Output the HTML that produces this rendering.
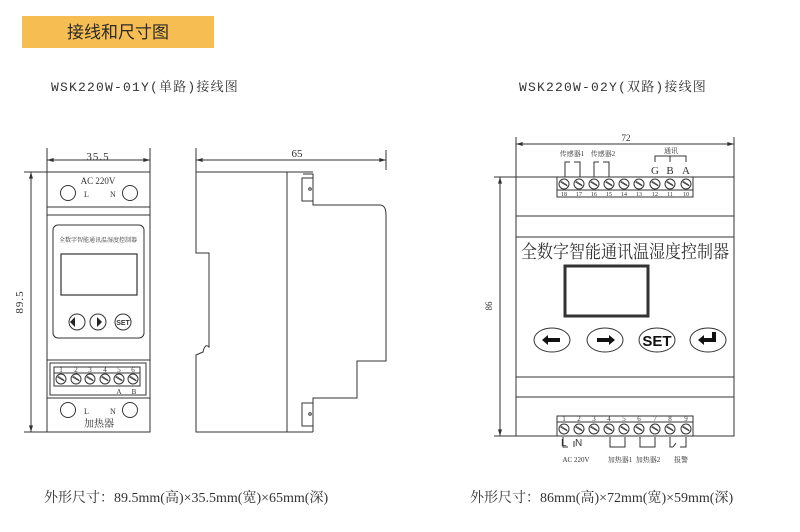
<!DOCTYPE html>
<html><head><meta charset="utf-8"><style>
html,body{margin:0;padding:0;background:#fff;width:800px;height:532px;overflow:hidden}
svg{display:block}
text{font-family:"Liberation Serif","Noto Serif CJK SC",serif;fill:#333}
.s{font-family:"Liberation Sans","Noto Sans CJK SC",sans-serif}
</style></head><body>
<svg width="800" height="532" viewBox="0 0 800 532" xmlns="http://www.w3.org/2000/svg">
<defs>
<marker id="ar" viewBox="0 0 10 6" refX="10" refY="3" markerWidth="8" markerHeight="4" orient="auto-start-reverse"><path d="M0,0L10,3L0,6z" fill="#333"/></marker>
<g id="scr"><circle r="5" fill="#fff" stroke="#333" stroke-width="1"/><line x1="-3.5" y1="-2" x2="3.5" y2="2" stroke="#333" stroke-width="1"/><line x1="-3" y1="-3" x2="3" y2="1" stroke="#333" stroke-width="0.7"/></g>
</defs>
<rect x="22" y="16" width="192" height="32" fill="#F6BE52"/>
<text class="s" x="118" y="38" font-size="17" text-anchor="middle" style="fill:#2a2a2a">接线和尺寸图</text>
<text x="145" y="91" font-size="13" text-anchor="middle" letter-spacing="1.2" style="font-family:'Liberation Mono','Noto Serif CJK SC',monospace">WSK220W-01Y(单路)接线图</text>
<text x="613" y="91" font-size="13" text-anchor="middle" letter-spacing="1.2" style="font-family:'Liberation Mono','Noto Serif CJK SC',monospace">WSK220W-02Y(双路)接线图</text>

<g fill="none" stroke="#333" stroke-width="1">
<line x1="47" y1="148" x2="47" y2="172"/><line x1="150" y1="148" x2="150" y2="172"/>
<line x1="47" y1="160" x2="150" y2="160" marker-start="url(#ar)" marker-end="url(#ar)"/>
<line x1="24" y1="172" x2="47" y2="172"/><line x1="24" y1="432" x2="47" y2="432"/>
<line x1="31" y1="172" x2="31" y2="432" marker-start="url(#ar)" marker-end="url(#ar)"/>
<rect x="47" y="172" width="103" height="260"/>
<line x1="47" y1="207" x2="150" y2="207"/><line x1="47" y1="215" x2="150" y2="215"/>
<circle cx="68" cy="193" r="7.5"/><circle cx="130" cy="193" r="7.5"/>
<rect x="53" y="225" width="91" height="113" rx="5"/>
<rect x="61" y="254" width="76" height="41" stroke-width="1.2"/>
<circle cx="77" cy="322" r="8"/><circle cx="98" cy="322" r="8"/><circle cx="123" cy="322" r="8"/>
<line x1="47" y1="360" x2="150" y2="360"/>
<rect x="50" y="363" width="96" height="32"/>
<rect x="54" y="367" width="86" height="19"/>
<line x1="54" y1="373" x2="140" y2="373"/>
<line x1="47" y1="398" x2="150" y2="398"/>
<circle cx="68" cy="410" r="7.5"/><circle cx="130" cy="410" r="7.5"/>
</g>
<path d="M70,322l5,-5v10z" fill="#222"/><path d="M102,322l-5,-5v10z" fill="#222"/>
<text x="123" y="325" font-size="7" font-weight="bold" text-anchor="middle" class="s">SET</text>
<g transform="translate(0,379)"><use href="#scr" x="61"/><use href="#scr" x="76"/><use href="#scr" x="90"/><use href="#scr" x="105"/><use href="#scr" x="119"/><use href="#scr" x="133"/></g>
<g font-size="7" text-anchor="middle"><text x="61" y="372">1</text><text x="76" y="372">2</text><text x="90" y="372">3</text><text x="105" y="372">4</text><text x="119" y="372">5</text><text x="133" y="372">6</text>
<text x="119" y="394">A</text><text x="134" y="394">B</text></g>
<text x="98" y="160" font-size="11" text-anchor="middle" letter-spacing="1">35.5</text>
<text x="98" y="184" font-size="9" text-anchor="middle">AC  220V</text>
<text x="84" y="197" font-size="8">L</text><text x="110" y="197" font-size="8">N</text>
<text x="98" y="242" font-size="6" text-anchor="middle">全数字智能通讯温湿度控制器</text>
<text x="84" y="414" font-size="8">L</text><text x="110" y="414" font-size="8">N</text>
<text x="99" y="427" font-size="10" text-anchor="middle">加热器</text>
<text x="0" y="0" font-size="11" text-anchor="middle" letter-spacing="1" transform="translate(23,302) rotate(-90)">89.5</text>

<g fill="none" stroke="#333" stroke-width="1">
<line x1="196" y1="148" x2="196" y2="172"/><line x1="386" y1="150" x2="386" y2="170"/>
<line x1="196" y1="160" x2="386" y2="160" marker-start="url(#ar)" marker-end="url(#ar)"/>
<path d="M196,172 H313 M196,172 V253 H209 V347 Q205,343 203,352 L196,355 V432 H313"/>
<line x1="287" y1="172" x2="287" y2="432"/>
<path d="M303,174 H313 V205 H380 Q386,205 386,215 V361 H357 V398 H313 V432"/>
<rect x="302" y="178" width="11" height="23"/><rect x="302" y="403" width="11" height="23"/>
<circle cx="310" cy="189" r="1.3"/><circle cx="310" cy="414" r="1.3"/>
</g>
<text x="297" y="157" font-size="11" text-anchor="middle">65</text>

<g fill="none" stroke="#333" stroke-width="1">
<line x1="516" y1="137" x2="516" y2="177"/><line x1="734" y1="137" x2="734" y2="177"/>
<line x1="516" y1="144" x2="734" y2="144" marker-start="url(#ar)" marker-end="url(#ar)"/>
<line x1="494" y1="177" x2="516" y2="177"/><line x1="494" y1="436" x2="516" y2="436"/>
<line x1="500" y1="177" x2="500" y2="436" marker-start="url(#ar)" marker-end="url(#ar)"/>
<rect x="516" y="177" width="218" height="259"/>
<line x1="516" y1="216" x2="734" y2="216"/><line x1="516" y1="237" x2="734" y2="237"/>
<line x1="516" y1="377" x2="734" y2="377"/><line x1="516" y1="397" x2="734" y2="397"/>
<rect x="565" y="266" width="83" height="50" stroke-width="3"/>
<ellipse cx="552" cy="340" rx="18" ry="12"/><ellipse cx="605" cy="340" rx="18" ry="12"/>
<ellipse cx="657" cy="340" rx="18" ry="12"/><ellipse cx="708" cy="340" rx="18" ry="12"/>
<rect x="557" y="177" width="136" height="20"/><line x1="557" y1="190" x2="693" y2="190"/>
<rect x="557" y="416" width="136" height="20"/><line x1="557" y1="422" x2="693" y2="422"/>
<path d="M565,177V162H570 M574,162H580V177 M594,177V162H599 M603,162H609V177"/>
<path d="M655,162V156H686V162 M670,156V162"/>
<path d="M563,437V447H568 M574,441V447 M610,437V447H625V437 M640,437V447H655V437 M670,437V447H673 M676,443 L673,447 M680,447H686V437"/>
</g>
<g font-size="7" text-anchor="middle">
<text x="572" y="156">传感器1</text><text x="603" y="156">传感器2</text><text x="671" y="153">通讯</text>
<text x="576" y="462">AC  220V</text><text x="620" y="462">加热器1</text><text x="648" y="462">加热器2</text><text x="681" y="462">报警</text>
</g>
<g class="s" font-size="11" text-anchor="middle"><text x="655" y="174">G</text><text x="670" y="174">B</text><text x="686" y="174">A</text></g>
<g transform="translate(0,184)"><use href="#scr" x="564"/><use href="#scr" x="579"/><use href="#scr" x="594"/><use href="#scr" x="609"/><use href="#scr" x="624"/><use href="#scr" x="639"/><use href="#scr" x="655"/><use href="#scr" x="670"/><use href="#scr" x="686"/></g>
<g transform="translate(0,429)"><use href="#scr" x="564"/><use href="#scr" x="579"/><use href="#scr" x="594"/><use href="#scr" x="609"/><use href="#scr" x="624"/><use href="#scr" x="639"/><use href="#scr" x="655"/><use href="#scr" x="670"/><use href="#scr" x="686"/></g>
<g font-size="6" text-anchor="middle"><text x="564" y="196">18</text><text x="579" y="196">17</text><text x="594" y="196">16</text><text x="609" y="196">15</text><text x="624" y="196">14</text><text x="639" y="196">13</text><text x="655" y="196">12</text><text x="670" y="196">11</text><text x="686" y="196">10</text></g>
<g font-size="7" text-anchor="middle"><text x="564" y="421">1</text><text x="579" y="421">2</text><text x="594" y="421">3</text><text x="609" y="421">4</text><text x="624" y="421">5</text><text x="639" y="421">6</text><text x="655" y="421">7</text><text x="670" y="421">8</text><text x="686" y="421">9</text></g>
<text class="s" x="561" y="446" font-size="10">L</text><text class="s" x="575" y="446" font-size="10">N</text>
<text x="625" y="258" font-size="18" text-anchor="middle" textLength="208" lengthAdjust="spacingAndGlyphs">全数字智能通讯温湿度控制器</text>
<path d="M542,340l6,-5v3h12v4h-12v3z" fill="#111"/>
<path d="M615,340l-6,-5v3h-12v4h12v3z" fill="#111"/>
<text class="s" x="657" y="346" font-size="15" font-weight="bold" text-anchor="middle" style="fill:#111">SET</text>
<path d="M698,340l6,-5v3h8v-6h4v10h-12v3z" fill="#111"/>
<text x="626" y="141" font-size="9" text-anchor="middle">72</text>
<text font-size="9" text-anchor="middle" transform="translate(492,306) rotate(-90)">86</text>

<text x="44" y="502" font-size="14">外形尺寸：89.5mm(高)×35.5mm(宽)×65mm(深)</text>
<text x="470" y="502" font-size="14">外形尺寸：86mm(高)×72mm(宽)×59mm(深)</text>
</svg>
</body></html>
